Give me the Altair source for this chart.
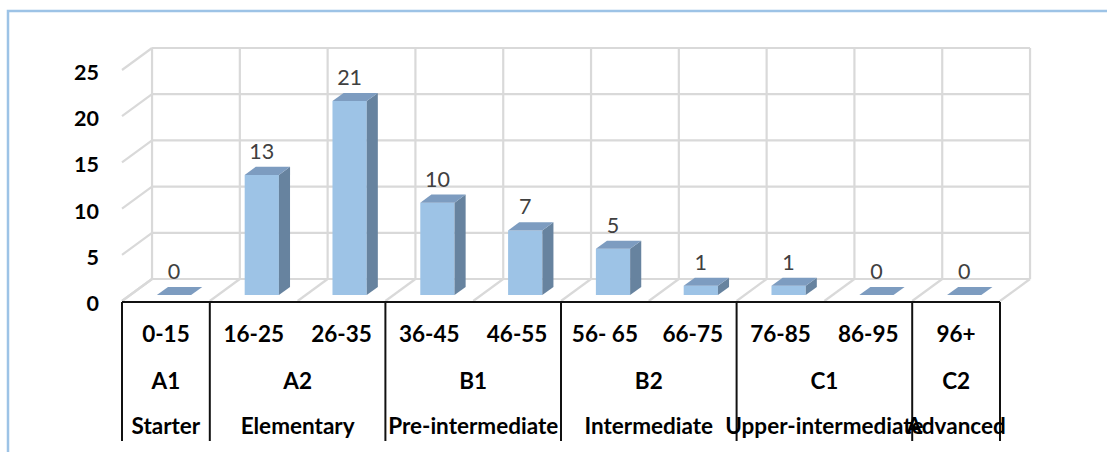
import altair as alt
import pandas as pd

# Score bands, counts and CEFR groupings
bands = ["0-15", "16-25", "26-35", "36-45", "46-55", "56- 65", "66-75", "76-85", "86-95", "96+"]
counts = [0, 13, 21, 10, 7, 5, 1, 1, 0, 0]
levels = ["A1", "A2", "B1", "B2", "C1", "C2"]
level_names = ["Starter", "Elementary", "Pre-intermediate", "Intermediate", "Upper-intermediate", "Advanced"]
level_spans = [1, 2, 2, 2, 2, 1]
y_ticks = [0, 5, 10, 15, 20, 25]

# pseudo-3D geometry (slot units / value units)
DU, DV = 0.342, 2.38          # full depth offset of the floor / side wall
F0, F1 = 0.27, 0.64           # bar front and back depth
HALF = 0.195                  # half bar width
N = len(bands)

FONT = "Lato"
GRID = "#D9D9D9"

xs = alt.Scale(domain=[0, N], nice=False, zero=False)
ys = alt.Scale(domain=[0, 25], nice=False, zero=False)


def X(f):
    return alt.X(f, type="quantitative", scale=xs, axis=None)


def Y(f):
    return alt.Y(f, type="quantitative", scale=ys, axis=None)


# back wall, side wall and floor lines
grid_rows = []
for v in y_ticks:
    grid_rows.append(dict(x=DU, x2=N + DU, y=v + DV, y2=v + DV))   # back horizontal
    grid_rows.append(dict(x=0, x2=DU, y=v, y2=v + DV))             # side diagonal
for k in range(N + 1):
    grid_rows.append(dict(x=k + DU, x2=k + DU, y=DV, y2=25 + DV))   # back vertical
    grid_rows.append(dict(x=k, x2=k + DU, y=0, y2=DV))              # floor diagonal
grid = pd.DataFrame(grid_rows)

grid_layer = alt.Chart(grid).mark_rule(color=GRID, strokeWidth=2.2).encode(
    x=X("x"), x2="x2", y=Y("y"), y2="y2"
)

# bar faces
front_rows, side_rows, top_rows, label_rows = [], [], [], []
for k, v in enumerate(counts):
    xl = k + 0.5 - HALF
    xr = k + 0.5 + HALF
    front_rows.append(dict(k=k, x=xl + F0 * DU, x2=xr + F0 * DU, y=F0 * DV, y2=v + F0 * DV))
    for f in (F0, F1):
        side_rows.append(dict(k=k, x=xr + f * DU, y=f * DV, y2=v + f * DV))
        top_rows.append(dict(k=k, y=v + f * DV, x=xl + f * DU, x2=xr + f * DU))
    label_rows.append(dict(x=k + 0.5 + F0 * DU, y=v + F0 * DV, t=str(v)))

front = alt.Chart(pd.DataFrame(front_rows)).mark_rect(color="#9DC3E6").encode(
    x=X("x"), x2="x2", y=Y("y"), y2="y2"
)
side = alt.Chart(pd.DataFrame(side_rows)).mark_area(color="#67839F", orient="vertical").encode(
    x=X("x"), y=Y("y"), y2="y2", detail="k:N"
)
top = alt.Chart(pd.DataFrame(top_rows)).mark_area(color="#7D9CC0", orient="horizontal").encode(
    y=Y("y"), x=X("x"), x2="x2", detail="k:N"
)
labels = alt.Chart(pd.DataFrame(label_rows)).mark_text(
    font=FONT, fontSize=21.5, color="#404040", baseline="alphabetic", dy=-16
).encode(x=X("x"), y=Y("y"), text="t:N")

# y tick labels on the front plane
ytext = alt.Chart(pd.DataFrame({"v": y_ticks})).mark_text(
    font=FONT, fontSize=21.5, fontWeight="bold", color="#000000", align="right", baseline="middle", dy=4
).encode(x=alt.value(-23), y=Y("v"), text="v:Q")

# category table below the floor
starts = [sum(level_spans[:i]) for i in range(len(level_spans))]
bounds = pd.DataFrame({"x": starts + [N]})
table_top = alt.Chart(pd.DataFrame({"x": [0], "x2": [N]})).mark_rule(color="#111111", strokeWidth=2).encode(
    x=X("x"), x2="x2", y=alt.value(232)
)
table_v = alt.Chart(bounds).mark_rule(color="#111111", strokeWidth=2).encode(
    x=X("x"), y=alt.value(232), y2=alt.value(371)
)
TS = 22.5
row1 = alt.Chart(pd.DataFrame({"x": [k + 0.5 for k in range(N)], "t": bands})).mark_text(
    font=FONT, fontSize=TS, fontWeight="bold", color="#000000", baseline="middle"
).encode(x=X("x"), y=alt.value(265), text="t:N")
groups = pd.DataFrame({
    "x": [s + w / 2 for s, w in zip(starts, level_spans)],
    "lvl": levels,
    "name": level_names,
})
row2 = alt.Chart(groups).mark_text(
    font=FONT, fontSize=TS, fontWeight="bold", color="#000000", baseline="middle"
).encode(x=X("x"), y=alt.value(312), text="lvl:N")
row3 = alt.Chart(groups).mark_text(
    font=FONT, fontSize=TS, fontWeight="bold", color="#000000", baseline="middle"
).encode(x=X("x"), y=alt.value(357), text="name:N")

# outer chart border
border = alt.Chart(pd.DataFrame({"a": [0]})).mark_rect(
    fill=None, stroke="#9DC3E6", strokeWidth=2.5
).encode(x=alt.value(-114), x2=alt.value(1100), y=alt.value(-59), y2=alt.value(500))

chart = alt.layer(
    border, grid_layer, front, side, top, labels, ytext, table_top, table_v, row1, row2, row3
).properties(
    width=878,
    height=231,
    autosize=alt.AutoSizeParams(type="none"),
    padding={"left": 122, "top": 70, "right": 107, "bottom": 151},
    background="white",
).configure_view(strokeWidth=0)

chart.save("out.html", embed_options={"renderer": "svg", "actions": False})
